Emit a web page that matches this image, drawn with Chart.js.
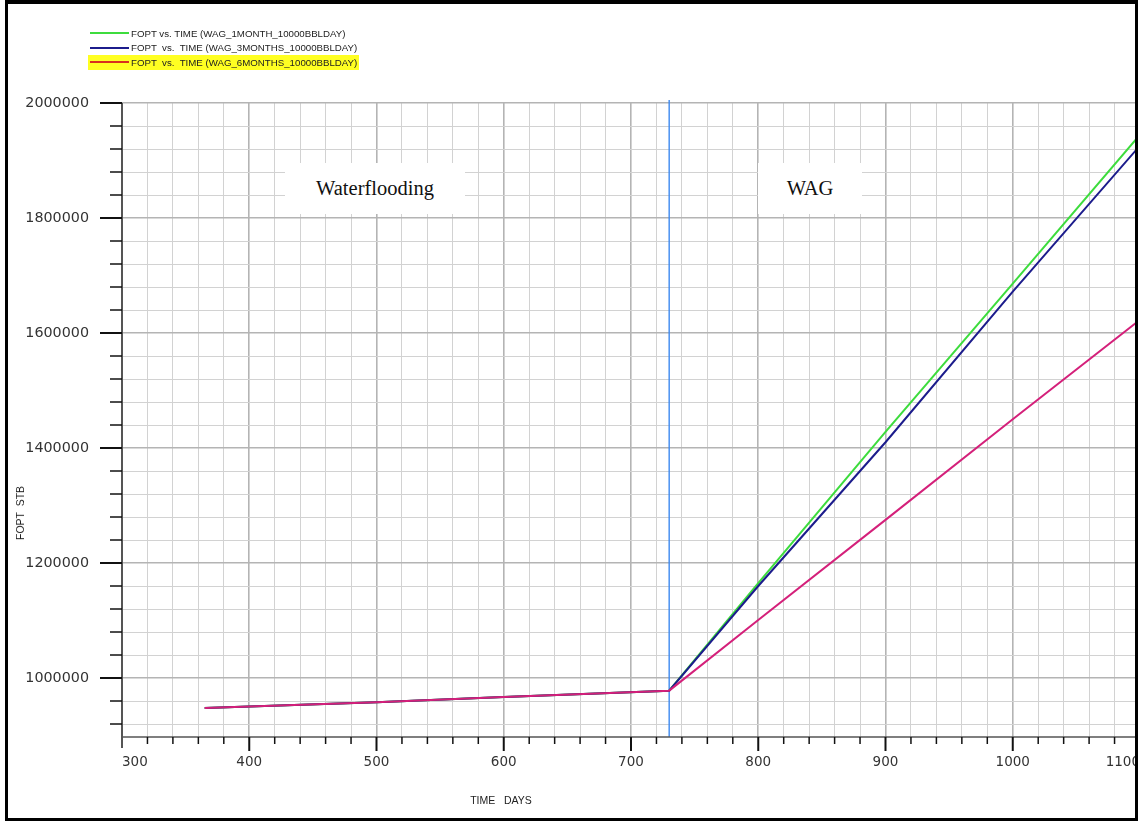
<!DOCTYPE html>
<html>
<head>
<meta charset="utf-8">
<script src="https://cdn.jsdelivr.net/npm/chart.js@4.4.1/dist/chart.umd.min.js"></script>
<style>
  html, body { margin:0; padding:0; background:#fff; overflow:hidden; width:1138px; height:821px; }
  #wrap { position:relative; width:1138px; height:821px; overflow:hidden; }
  canvas { position:absolute; left:0; top:0; }
  .frame { position:absolute; left:5px; top:0; width:1133px; height:821px; box-sizing:border-box;
           border-top:4px solid #000; border-left:3px solid #000; border-right:3px solid #000; border-bottom:3px solid #000; pointer-events:none; }
  .legend { position:absolute; left:88px; top:26px; font-family:"Liberation Sans", Arial, sans-serif; font-size:9.7px; color:#222; }
  .legend .row { position:relative; height:14.5px; display:flex; align-items:center; white-space:pre; padding-right:2px; }
  .legend .sw { width:39px; height:2px; margin-right:2px; margin-left:2px; }
  .note { position:absolute; background:#fff; font-family:"Liberation Serif", "Times New Roman", serif; font-size:20.5px; color:#111;
          display:flex; align-items:center; justify-content:center; }
  .atitle { position:absolute; font-family:"Liberation Sans", Arial, sans-serif; font-size:10.5px; color:#222; white-space:pre; }
</style>
</head>
<body>
<div id="wrap">
  <canvas id="c" width="1175" height="821"></canvas>
  <div class="legend" id="legend"></div>
  <div class="note" style="left:285px;top:163px;width:180px;height:51px;">Waterflooding</div>
  <div class="note" style="left:758px;top:163px;width:104px;height:51px;">WAG</div>
  <div class="atitle" style="left:20px;top:513px;transform:translate(-50%,-50%) rotate(-90deg);">FOPT  STB</div>
  <div class="atitle" style="left:501px;top:800px;transform:translate(-50%,-50%);">TIME   DAYS</div>
  <div class="frame"></div>
</div>
<script>
// ---- data ----
const seriesNames = [
  "FOPT vs. TIME (WAG_1MONTH_10000BBLDAY)",
  "FOPT  vs.  TIME (WAG_3MONTHS_10000BBLDAY)",
  "FOPT  vs.  TIME (WAG_6MONTHS_10000BBLDAY)"
];
const waterDays   = [365, 500, 600, 730];
const waterFOPT   = [948000, 958000, 967000, 978000];
const wagDays     = [800, 900, 1000, 1100];
const wag1Month   = [1165000, 1428000, 1686000, 1945000];
const wag3Months  = [1160000, 1410000, 1672000, 1926000];
const wag6Months  = [1101000, 1275000, 1450000, 1623000];
const xTickLabels = [300, 400, 500, 600, 700, 800, 900, 1000, 1100];
const yTickLabels = [1000000, 1200000, 1400000, 1600000, 1800000, 2000000];
const wagStartDay = 730;

const colors = ["#3ddc3d", "#1c1c8c", "#d4207a"];
const legendColors = ["#3ddc3d", "#1c1c8c", "#d8301e"];

function series(vals) {
  const pts = waterDays.map((d, i) => ({ x: d, y: waterFOPT[i] }));
  wagDays.forEach((d, i) => pts.push({ x: d, y: vals[i] }));
  return pts;
}
const allSeries = [wag1Month, wag3Months, wag6Months];

// legend
const lg = document.getElementById('legend');
seriesNames.forEach((n, i) => {
  const r = document.createElement('div');
  r.className = 'row';
  if (i === 2) r.style.background = '#ffff22';
  const s = document.createElement('div');
  s.className = 'sw'; s.style.background = legendColors[i];
  r.appendChild(s);
  r.appendChild(document.createTextNode(n));
  lg.appendChild(r);
});

const yMin = 897400, yMax = 2000000, yMinor = 40000;
const yTicks = [];
for (let v = 920000; v <= yMax; v += yMinor) yTicks.push(v);

const isMajorX = v => xTickLabels.includes(v);
const isMajorY = v => yTickLabels.includes(v);

const decor = {
  id: 'decor',
  beforeDatasetsDraw(chart) {
    const { ctx, chartArea: a, scales: { x } } = chart;
    const px = x.getPixelForValue(wagStartDay);
    ctx.save();
    ctx.strokeStyle = '#3d8af0';
    ctx.lineWidth = 1.4;
    ctx.beginPath(); ctx.moveTo(px, a.top - 3); ctx.lineTo(px, a.bottom); ctx.stroke();
    ctx.restore();
  },
  afterDraw(chart) {
    const { ctx, chartArea: a, scales: { x, y } } = chart;
    ctx.save();
    ctx.strokeStyle = '#555';
    ctx.lineWidth = 2;
    ctx.beginPath();
    ctx.moveTo(a.left, a.top); ctx.lineTo(a.left, a.bottom + 11);
    ctx.stroke();
    ctx.lineWidth = 1.5;
    ctx.beginPath(); ctx.moveTo(a.left, a.bottom); ctx.lineTo(a.right, a.bottom); ctx.stroke();
    ctx.strokeStyle = '#111';
    x.ticks.forEach(t => {
      const p = x.getPixelForValue(t.value);
      if (t.value === 300) return;
      const maj = isMajorX(t.value);
      ctx.lineWidth = maj ? 2 : 1.5;
      ctx.beginPath(); ctx.moveTo(p, a.bottom); ctx.lineTo(p, a.bottom + (maj ? 14 : 7)); ctx.stroke();
    });
    y.ticks.forEach(t => {
      const p = y.getPixelForValue(t.value);
      const maj = isMajorY(t.value);
      ctx.lineWidth = maj ? 2 : 1.5;
      ctx.beginPath(); ctx.moveTo(a.left - (maj ? 22 : 12), p); ctx.lineTo(a.left, p); ctx.stroke();
    });
    ctx.restore();
  }
};

new Chart(document.getElementById('c'), {
  type: 'line',
  data: {
    datasets: allSeries.map((vals, i) => ({
      label: seriesNames[i],
      data: series(vals),
      borderColor: colors[i],
      backgroundColor: colors[i],
      borderWidth: 2,
      pointRadius: 0,
      tension: 0,
      order: 3 - i
    }))
  },
  options: {
    responsive: false,
    animation: false,
    devicePixelRatio: 1,
    layout: { padding: { top: 103, right: 35, left: 0, bottom: 0 } },
    plugins: { legend: { display: false }, tooltip: { enabled: false } },
    scales: {
      x: {
        type: 'linear', min: 300, max: 1100,
        afterFit(s) { s.height = 84; s.paddingLeft = 0; s.paddingRight = 0; },
        ticks: {
          stepSize: 20, autoSkip: false, maxRotation: 0, padding: 17, align: 'inner',
          color: '#333', font: { family: 'DejaVu Sans', size: 13.5 },
          callback: v => isMajorX(v) ? String(v) : ''
        },
        grid: {
          drawTicks: false,
          color: c => isMajorX(c.tick.value) ? '#b4b4b4' : '#d2d2d2',
          lineWidth: c => isMajorX(c.tick.value) ? 1.6 : 1
        },
        border: { display: false }
      },
      y: {
        type: 'linear', min: yMin, max: yMax,
        afterBuildTicks(s) { s.ticks = yTicks.map(v => ({ value: v })); },
        afterFit(s) { s.width = 122; s.paddingTop = 0; s.paddingBottom = 0; },
        ticks: {
          autoSkip: false, padding: 33,
          color: '#333', font: { family: 'DejaVu Sans', size: 14.3 },
          callback: v => isMajorY(v) ? String(v) : ''
        },
        grid: {
          drawTicks: false,
          color: c => isMajorY(c.tick.value) ? '#b4b4b4' : '#d2d2d2',
          lineWidth: c => isMajorY(c.tick.value) ? 1.6 : 1
        },
        border: { display: false }
      }
    }
  },
  plugins: [decor]
});
</script>
</body>
</html>
